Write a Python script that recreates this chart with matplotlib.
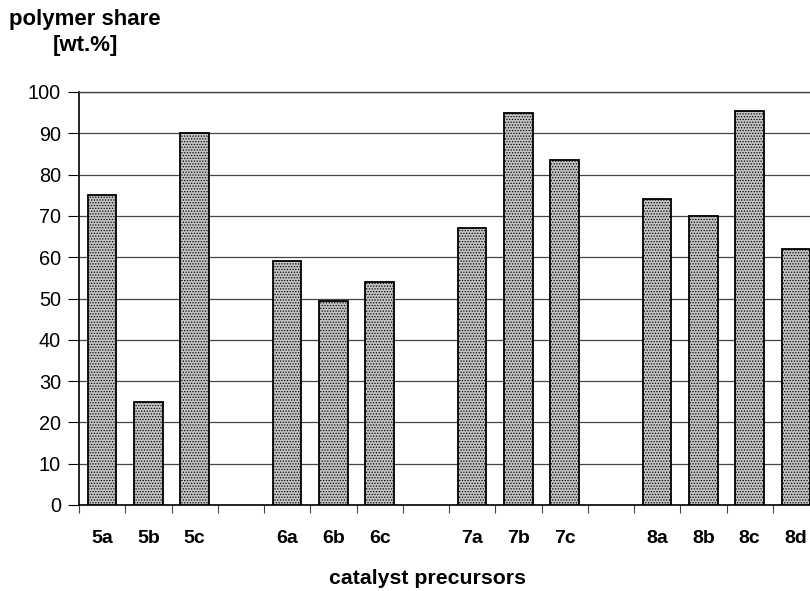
import matplotlib.pyplot as plt
import numpy as np

plt.rcParams["font.family"] = ["Liberation Sans", "DejaVu Sans"]
plt.rcParams["hatch.linewidth"] = 0.6

# data
labels = ["5a", "5b", "5c", "6a", "6b", "6c", "7a", "7b", "7c",
          "8a", "8b", "8c", "8d"]
group_sizes = [3, 3, 3, 4]
shares = [75, 25, 90, 59, 49.5, 54, 67, 95, 83.5, 74, 70, 95.5, 62]
y_ticks = [0, 10, 20, 30, 40, 50, 60, 70, 80, 90, 100]

# slot positions with an empty slot between groups
positions = []
slot = 0
for size in group_sizes:
    positions.extend(range(slot, slot + size))
    slot += size + 1
positions = np.array(positions) + 0.5
n_slots = slot - 1

fig = plt.figure(figsize=(8.1, 5.91), dpi=100)
# axes runs past the right edge, as in the cropped original
ax = fig.add_axes([79 / 810, 1 - 505 / 591, 740 / 810, 413 / 591])

ax.bar(positions, shares, width=0.615, color="#c4c4c4", edgecolor="black",
       linewidth=1.3, hatch="......", zorder=3)

ax.set_xlim(0, n_slots)
ax.set_ylim(0, 100)
ax.set_yticks(y_ticks)
ax.set_yticklabels([str(v) for v in y_ticks], fontsize=14.3)
ax.set_xticks(np.arange(0, n_slots + 1))
ax.set_xticklabels([])
ax.set_xticks(positions, minor=True)
ax.set_xticklabels(labels, minor=True, fontsize=14, fontweight="bold")
ax.tick_params(axis="x", which="minor", length=0, pad=18)
ax.tick_params(axis="x", which="major", length=6, width=0.8, color="#444444")
ax.tick_params(axis="y", length=8, width=0.8, pad=5)

ax.grid(axis="y", color="#444444", linewidth=0.9, zorder=0)
for side in ["left", "bottom"]:
    ax.spines[side].set_linewidth(1.2)
ax.spines["top"].set_linewidth(1.0)
ax.spines["top"].set_color("#444444")

fig.text(85 / 810, 1 - 20 / 591, "polymer share", fontsize=16,
         fontweight="bold", va="center", ha="center")
fig.text(85 / 810, 1 - 46 / 591, "[wt.%]", fontsize=16,
         fontweight="bold", va="center", ha="center")
fig.text(428 / 810, 1 - 579 / 591, "catalyst precursors", fontsize=15.3,
         fontweight="bold", va="center", ha="center")

fig.savefig("out.png", dpi=100)
